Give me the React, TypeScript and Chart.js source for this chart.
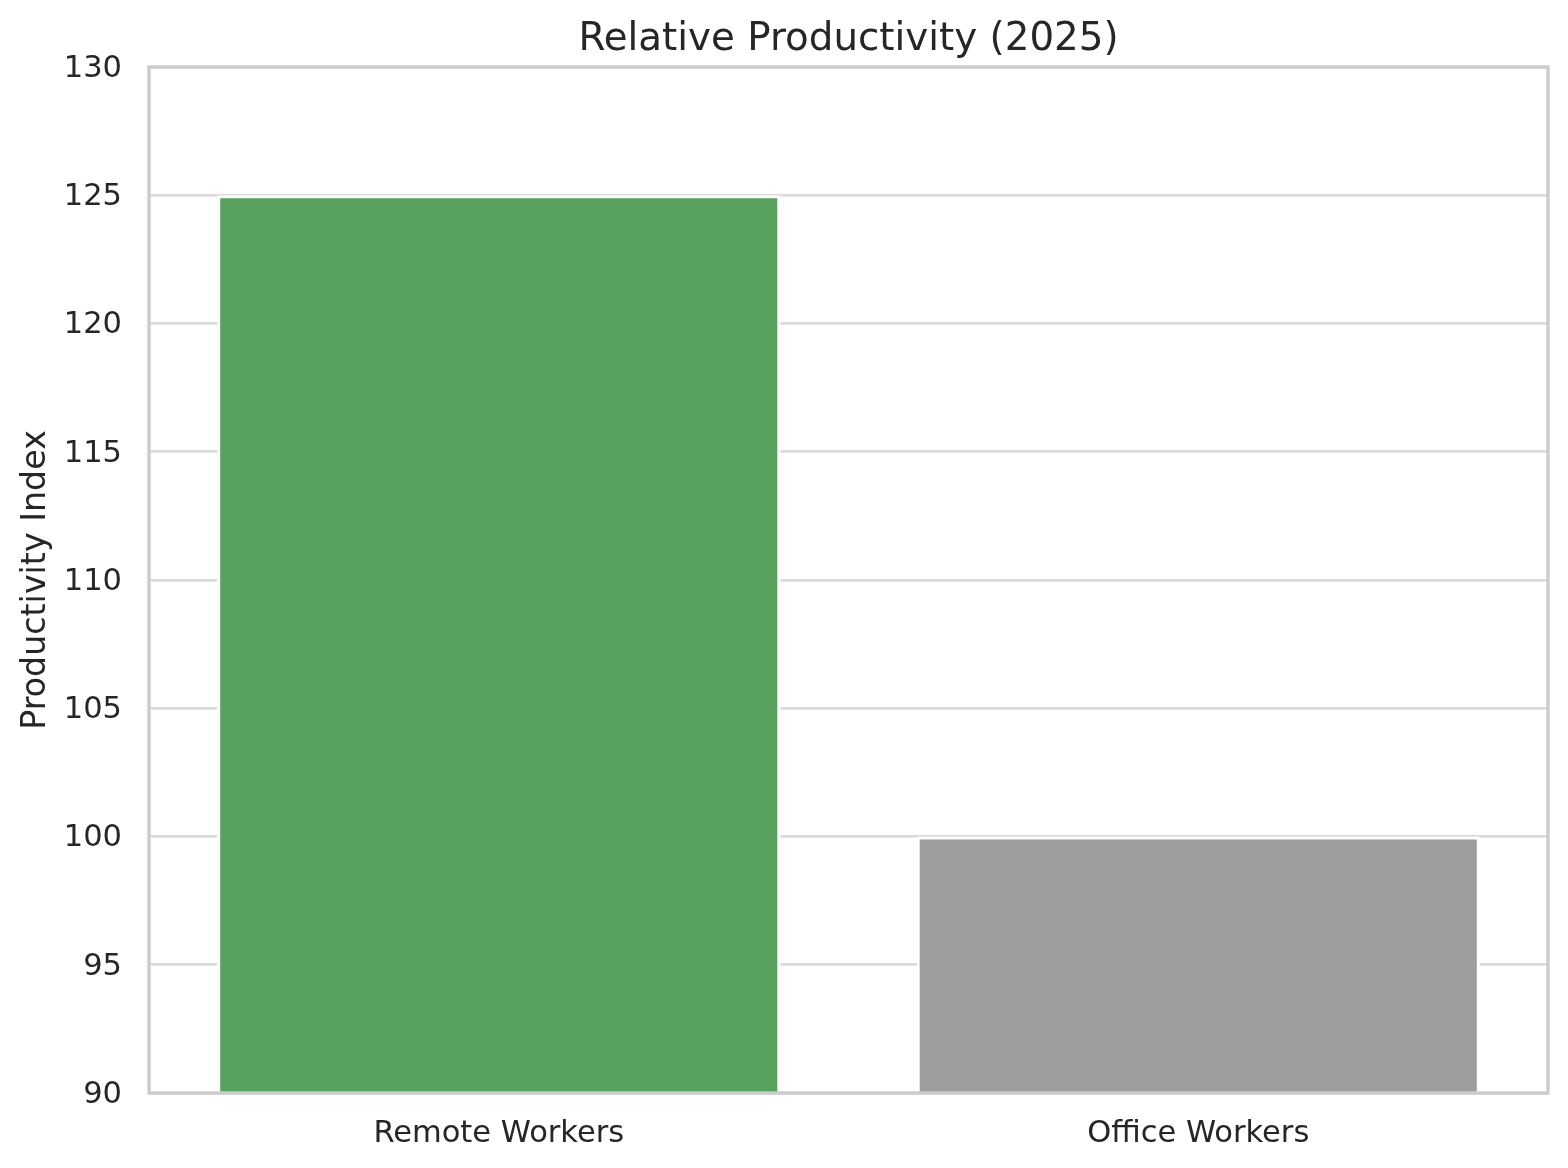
import React, { useEffect, useRef } from "react";
import { Chart, registerables } from "chart.js";

Chart.register(...registerables);

const categories = ["Remote Workers", "Office Workers"];
const productivity = [125, 100];
const barColors = ["#59a25e", "#9e9e9e"];
const yTicks = [90, 95, 100, 105, 110, 115, 120, 125, 130];

const TEXT = "#262626";
const FONT = "'DejaVu Sans', sans-serif";

const framePlugin = {
  id: "frame",
  afterDraw(chart: any) {
    const { ctx, chartArea } = chart;
    ctx.save();
    ctx.strokeStyle = "#cccccc";
    ctx.lineWidth = 3.4;
    ctx.strokeRect(chartArea.left, chartArea.top, chartArea.right - chartArea.left, chartArea.bottom - chartArea.top);
    ctx.restore();
  },
};

export default function App() {
  const ref = useRef<HTMLCanvasElement | null>(null);
  useEffect(() => {
    if (!ref.current) return;
    const chart = new Chart(ref.current, {
      type: "bar",
      data: {
        labels: categories,
        datasets: [
          {
            data: productivity,
            backgroundColor: barColors,
            borderColor: "#ffffff",
            borderWidth: 3,
            borderSkipped: false,
            barPercentage: 0.805,
            categoryPercentage: 1,
          },
        ],
      },
      options: {
        responsive: false,
        animation: false,
        layout: { padding: { left: 0, right: 20, top: 0, bottom: 0 } },
        plugins: {
          legend: { display: false },
          tooltip: { enabled: false },
          title: {
            display: true,
            text: "Relative Productivity (2025)",
            color: TEXT,
            fullSize: false,
            font: { family: FONT, size: 38.8, weight: "normal", lineHeight: 1.2 },
            padding: { top: 16.5, bottom: 3.9 },
          },
        },
        scales: {
          x: {
            grid: { display: false, drawTicks: false },
            border: { display: false },
            ticks: {
              color: TEXT,
              padding: 23,
              font: { family: FONT, size: 30.5 },
            },
            afterFit(scale: any) {
              scale.height = 75;
            },
          },
          y: {
            min: 90,
            max: 130,
            afterBuildTicks(scale: any) {
              scale.ticks = yTicks.map((v) => ({ value: v }));
            },
            grid: { color: "#dcdcdc", lineWidth: 2.8, drawTicks: false },
            border: { display: false },
            ticks: {
              color: TEXT,
              padding: 27,
              labelOffset: 2,
              font: { family: FONT, size: 30.5 },
            },
            title: {
              display: true,
              text: "Productivity Index",
              color: TEXT,
              font: { family: FONT, size: 33.3 },
              padding: { top: 16, bottom: 0 },
            },
            afterFit(scale: any) {
              scale.width = 149;
            },
          },
        },
      },
      plugins: [framePlugin],
    } as any);
    return () => chart.destroy();
  }, []);
  return (
    <div style={{ position: "fixed", left: 0, top: 0, width: 1568, height: 1168, background: "#ffffff" }}>
      <canvas ref={ref} width={1568} height={1168} style={{ width: 1568, height: 1168, display: "block" }} />
    </div>
  );
}
